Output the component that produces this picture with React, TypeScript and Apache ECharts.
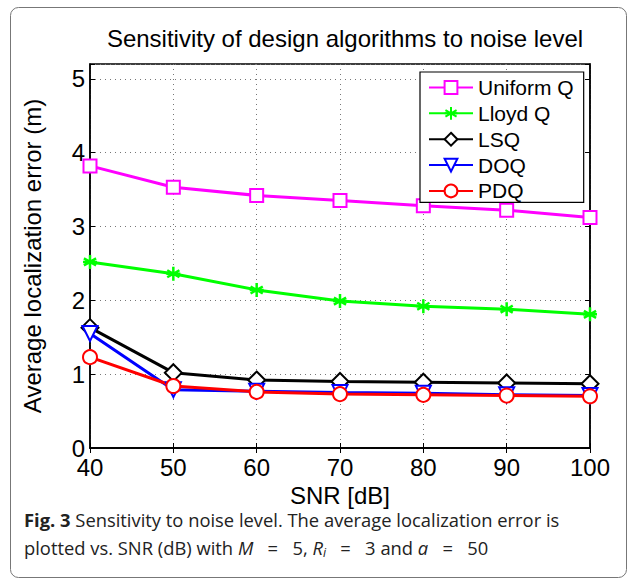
import React, { useEffect, useRef } from "react";
import * as echarts from "echarts";

const snr = [40, 50, 60, 70, 80, 90, 100];
const uniformQ = [3.82, 3.53, 3.42, 3.35, 3.28, 3.22, 3.12];
const lloydQ = [2.52, 2.36, 2.14, 1.99, 1.92, 1.88, 1.81];
const lsq = [1.63, 1.02, 0.92, 0.9, 0.89, 0.88, 0.87];
const doq = [1.55, 0.79, 0.77, 0.75, 0.74, 0.72, 0.71];
const pdq = [1.23, 0.84, 0.76, 0.73, 0.72, 0.71, 0.7];
const yTicks = [0, 1, 2, 3, 4, 5];

const FONT = "Liberation Sans";
const asterisk =
  "path://M0,-1L0,1M-0.87,-0.5L0.87,0.5M-0.87,0.5L0.87,-0.5M-1,0L1,0";

function pairs(v: number[]) {
  return snr.map((x, i) => [x, v[i]]);
}

export default function App() {
  const ref = useRef<HTMLDivElement>(null);
  useEffect(() => {
    document.body.style.margin = "0";
    const chart = echarts.init(ref.current!, null, { renderer: "svg" });
    const mk = (
      name: string,
      data: number[],
      color: string,
      symbol: string,
      size: number,
      rotate = 0
    ) => ({
      name,
      type: "line",
      data: pairs(data),
      symbol,
      symbolSize: size,
      symbolRotate: rotate,
      showAllSymbol: true,
      lineStyle: { color, width: 3 },
      itemStyle: {
        color: symbol === asterisk ? "none" : color,
        borderColor: color,
        borderWidth: 2.5,
      },
      z: 3,
    });
    chart.setOption({
      animation: false,
      title: {
        text: "Sensitivity of design algorithms to noise level",
        left: 340,
        top: 21,
        textAlign: "center",
        textStyle: {
          fontFamily: FONT,
          fontSize: 24,
          fontWeight: "normal",
          color: "#000",
        },
      },
      grid: {
        left: 90,
        right: 47,
        top: 64,
        bottom: 134,
        show: true,
        borderColor: "#000",
        borderWidth: 1.5,
        backgroundColor: "#fff",
      },
      legend: {
        orient: "vertical",
        left: 420,
        top: 72,
        padding: [5, 10, 1, 8],
        backgroundColor: "#fff",
        borderColor: "#000",
        borderWidth: 1.2,
        borderRadius: 0,
        itemWidth: 44,
        itemHeight: 16,
        itemGap: 4.85,
        textStyle: {
          fontFamily: FONT,
          fontSize: 21,
          color: "#000",
        },
        data: ["Uniform Q", "Lloyd Q", "LSQ", "DOQ", "PDQ"],
      },
      xAxis: [
        {
          type: "value",
          min: 40,
          max: 100,
          interval: 10,
          name: "SNR [dB]",
          nameLocation: "middle",
          nameGap: 30,
          nameTextStyle: { fontFamily: FONT, fontSize: 24, color: "#000" },
          axisLine: { show: true, lineStyle: { color: "#000", width: 1.5 } },
          axisTick: { show: true, inside: true, length: 5, lineStyle: { color: "#000" } },
          axisLabel: {
            fontFamily: FONT,
            fontSize: 24,
            color: "#000",
            margin: 7,
          },
          splitLine: {
            show: true,
            lineStyle: { color: "#777", type: [1, 4], width: 1 },
          },
        },
        {
          type: "value",
          position: "top",
          min: 40,
          max: 100,
          interval: 10,
          axisLine: { show: true, lineStyle: { color: "#000", width: 1.5 } },
          axisTick: { show: true, inside: true, length: 5, lineStyle: { color: "#000" } },
          axisLabel: { show: false },
          splitLine: { show: false },
        },
      ],
      yAxis: [
        {
          type: "value",
          min: 0,
          max: 5.2,
          interval: 1,
          name: "Average localization error (m)",
          nameLocation: "middle",
          nameGap: 46,
          nameTextStyle: { fontFamily: FONT, fontSize: 24, color: "#000" },
          axisLine: { show: true, lineStyle: { color: "#000", width: 1.5 } },
          axisTick: { show: true, inside: true, length: 5, lineStyle: { color: "#000" } },
          axisLabel: {
            fontFamily: FONT,
            fontSize: 24,
            color: "#000",
            margin: 5,
            formatter: (v: number) => (yTicks.includes(v) ? String(v) : ""),
          },
          splitLine: {
            show: true,
            lineStyle: { color: "#777", type: [1, 4], width: 1 },
          },
        },
        {
          type: "value",
          position: "right",
          min: 0,
          max: 5.2,
          interval: 1,
          axisLine: { show: true, lineStyle: { color: "#000", width: 1.5 } },
          axisTick: { show: true, inside: true, length: 5, lineStyle: { color: "#000" } },
          axisLabel: { show: false },
          splitLine: { show: false },
        },
      ],
      series: [
        mk("Uniform Q", uniformQ, "#ff00ff", "emptyRect", 13),
        mk("Lloyd Q", lloydQ, "#00ff00", asterisk, 14),
        mk("LSQ", lsq, "#000000", "emptyDiamond", 17),
        mk("DOQ", doq, "#0000ff", "emptyTriangle", 15, 180),
        mk("PDQ", pdq, "#ff0000", "emptyCircle", 14),
      ],
      graphic: [
        {
          type: "rect",
          shape: { x: 10.5, y: 7.5, width: 616, height: 570, r: 8 },
          style: { fill: "none", stroke: "#777", lineWidth: 1 },
          z: 0,
          silent: true,
        },
        {
          type: "text",
          x: 24,
          y: 520,
          scaleX: 1.02,
          style: {
            text: "{b|Fig. 3} Sensitivity to noise level. The average localization error is",
            fontFamily: "Open Sans",
            fontSize: 18,
            fill: "#222",
            verticalAlign: "middle",
            rich: {
              b: { fontFamily: "Open Sans", fontSize: 18, fontWeight: "bold", fill: "#222" },
            },
          },
        },
        {
          type: "text",
          x: 24,
          y: 548,
          scaleX: 1.02,
          style: {
            text: "plotted vs. SNR (dB) with {i|M}   =   5, {i|R}{s|i}   =   3 and {i|a}   =   50",
            fontFamily: "Open Sans",
            fontSize: 18,
            fill: "#222",
            verticalAlign: "middle",
            rich: {
              i: { fontFamily: "Open Sans", fontSize: 18, fontStyle: "italic", fill: "#222" },
              s: {
                fontFamily: "Open Sans",
                fontSize: 12,
                fontStyle: "italic",
                fill: "#222",
                padding: [9, 0, 0, 0],
              },
            },
          },
        },
      ],
    });
    return () => chart.dispose();
  }, []);
  return <div ref={ref} style={{ width: 637, height: 582 }} />;
}
